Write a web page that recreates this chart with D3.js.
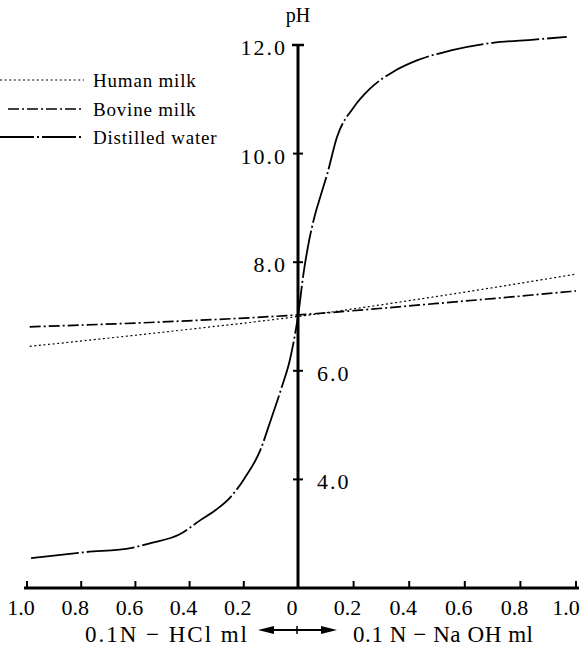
<!DOCTYPE html>
<html>
<head>
<meta charset="utf-8">
<script src="https://cdn.jsdelivr.net/npm/d3@7"></script>
<style>
  body { margin: 0; background: #fff; }
  svg { display: block; }
  text { font-family: "Liberation Serif", "DejaVu Serif", serif; fill: #000; }
</style>
</head>
<body>
<svg width="582" height="647"></svg>
<script>
// ml of titrant: negative = 0.1N HCl, positive = 0.1N NaOH
var waterX  = [-0.985, -0.785, -0.613, -0.54, -0.44, -0.36, -0.3, -0.248, -0.2, -0.139, -0.1, -0.06, -0.03, -0.01, 0, 0.02, 0.04, 0.06, 0.08, 0.106, 0.14, 0.2, 0.26, 0.34, 0.43, 0.55, 0.70, 0.85, 0.967];
var waterPH = [2.55, 2.66, 2.74, 2.83, 2.98, 3.25, 3.45, 3.68, 4.0, 4.54, 5.1, 5.7, 6.2, 6.7, 7.0, 7.8, 8.4, 8.85, 9.2, 9.64, 10.3, 10.85, 11.2, 11.5, 11.72, 11.9, 12.04, 12.1, 12.15];

var humanX  = [-0.99, -0.5, 0, 0.5, 1.0];
var humanPH = [6.45, 6.71, 7.0, 7.37, 7.78];

var bovineX  = [-0.99, -0.5, 0, 0.5, 1.0];
var bovinePH = [6.81, 6.9, 7.03, 7.24, 7.47];

var xTicks = [-1, -0.8, -0.6, -0.4, -0.2, 0, 0.2, 0.4, 0.6, 0.8, 1];
var xTickLabels = ["1.0", "0.8", "0.6", "0.4", "0.2", "0", "0.2", "0.4", "0.6", "0.8", "1.0"];
var yTicks = [4, 6, 8, 10, 12];
var yTickLabels = ["4.0", "6.0", "8.0", "10.0", "12.0"];

var legendNames = ["Human milk", "Bovine milk", "Distilled water"];

var svg = d3.select("svg");

var x = d3.scaleLinear().domain([-1, 0, 1]).range([27, 298, 576]);
var y = d3.scaleLinear().domain([2, 12]).range([588, 45]);

var styles = [
  { dash: "2,2.6", width: 1.2 },
  { dash: "11,3,2,3", width: 1.7 },
  { dash: "48,3,2,3", width: 1.8 }
];
var legendDash = ["2,2.6", "11,3,2,3", "34,3,2,3"];

// axes
svg.append("line")
  .attr("x1", 24).attr("x2", 579)
  .attr("y1", y(2)).attr("y2", y(2))
  .attr("stroke", "#000").attr("stroke-width", 3);

svg.selectAll("line.xtick").data(xTicks).enter().append("line")
  .attr("class", "xtick")
  .attr("x1", function(d){ return x(d); }).attr("x2", function(d){ return x(d); })
  .attr("y1", y(2)).attr("y2", y(2) - 7)
  .attr("stroke", "#000").attr("stroke-width", 2);

svg.selectAll("text.xlab").data(xTicks).enter().append("text")
  .attr("class", "xlab")
  .attr("x", function(d){ return Math.min(x(d) - 6, 566); })
  .attr("y", 615)
  .attr("text-anchor", "middle")
  .attr("font-size", 22)
  .text(function(d, i){ return xTickLabels[i]; });

svg.append("line")
  .attr("x1", x(0)).attr("x2", x(0))
  .attr("y1", y(12)).attr("y2", y(2))
  .attr("stroke", "#000").attr("stroke-width", 3);

svg.append("line")
  .attr("x1", x(0) - 6).attr("x2", x(0) + 6)
  .attr("y1", y(12)).attr("y2", y(12))
  .attr("stroke", "#000").attr("stroke-width", 2.5);

svg.selectAll("line.ytick").data(yTicks.slice(0, 4)).enter().append("line")
  .attr("class", "ytick")
  .attr("x1", x(0) - 5).attr("x2", x(0) + 5)
  .attr("y1", function(d){ return y(d); }).attr("y2", function(d){ return y(d); })
  .attr("stroke", "#000").attr("stroke-width", 2);

svg.selectAll("text.ylab").data(yTicks).enter().append("text")
  .attr("class", "ylab")
  .attr("x", function(d){ return d >= 8 ? x(0) - 11 : x(0) + 19; })
  .attr("y", function(d){ return y(d) + 10; })
  .attr("text-anchor", function(d){ return d >= 8 ? "end" : "start"; })
  .attr("font-size", 22)
  .attr("letter-spacing", 2)
  .text(function(d, i){ return yTickLabels[i]; });

svg.append("text")
  .attr("x", x(0)).attr("y", 22)
  .attr("text-anchor", "middle")
  .attr("font-size", 20)
  .text("pH");

// curves
var line = d3.line()
  .x(function(d){ return x(d[0]); })
  .y(function(d){ return y(d[1]); })
  .curve(d3.curveMonotoneX);

var series = [
  d3.zip(humanX, humanPH),
  d3.zip(bovineX, bovinePH),
  d3.zip(waterX, waterPH)
];

svg.selectAll("path.curve").data(series).enter().append("path")
  .attr("class", "curve")
  .attr("d", line)
  .attr("fill", "none")
  .attr("stroke", "#000")
  .attr("stroke-width", function(d, i){ return styles[i].width; })
  .attr("stroke-dasharray", function(d, i){ return styles[i].dash; });

// legend
var legendY = [80, 109, 137];
var legendX0 = [0, 8, 0];
var lg = svg.selectAll("g.legend").data(legendNames).enter().append("g").attr("class", "legend");
lg.append("line")
  .attr("x1", function(d, i){ return legendX0[i]; }).attr("x2", 84)
  .attr("y1", function(d, i){ return legendY[i]; }).attr("y2", function(d, i){ return legendY[i]; })
  .attr("stroke", "#000")
  .attr("stroke-width", function(d, i){ return styles[i].width; })
  .attr("stroke-dasharray", function(d, i){ return legendDash[i]; });
lg.append("text")
  .attr("x", 93)
  .attr("y", function(d, i){ return legendY[i] + 7; })
  .attr("font-size", 19)
  .attr("letter-spacing", 0.8)
  .text(function(d){ return d; });

// bottom caption with double arrow
svg.append("text")
  .attr("x", 85).attr("y", 642)
  .attr("font-size", 23)
  .attr("textLength", 162).attr("lengthAdjust", "spacing")
  .text("0.1N − HCl  ml");

svg.append("text")
  .attr("x", 353).attr("y", 642)
  .attr("font-size", 23)
  .attr("textLength", 180).attr("lengthAdjust", "spacing")
  .text("0.1 N − Na OH  ml");

var ay = 630, ax1 = 258, ax2 = 337;
svg.append("line")
  .attr("x1", ax1 + 10).attr("x2", ax2 - 10)
  .attr("y1", ay).attr("y2", ay)
  .attr("stroke", "#000").attr("stroke-width", 2);
svg.append("path")
  .attr("d", "M" + ax1 + "," + ay + " L" + (ax1 + 16) + "," + (ay - 4) + " L" + (ax1 + 16) + "," + (ay + 4) + " Z")
  .attr("fill", "#000");
svg.append("path")
  .attr("d", "M" + ax2 + "," + ay + " L" + (ax2 - 16) + "," + (ay - 4) + " L" + (ax2 - 16) + "," + (ay + 4) + " Z")
  .attr("fill", "#000");
svg.append("line")
  .attr("x1", 297).attr("x2", 297)
  .attr("y1", ay - 4).attr("y2", ay + 4)
  .attr("stroke", "#000").attr("stroke-width", 1.5);
</script>
</body>
</html>
